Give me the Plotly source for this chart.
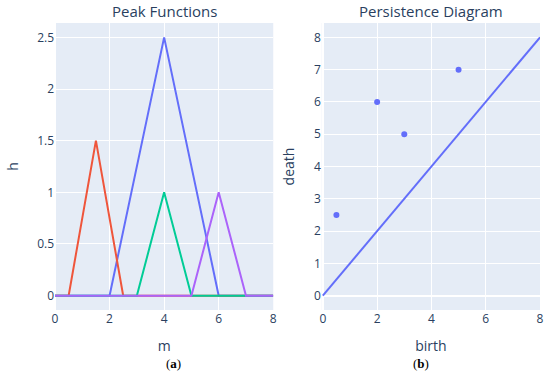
import plotly.graph_objects as go
from plotly.subplots import make_subplots

# Peak functions (m, h)
peak_blue_m = [0, 2, 4, 6, 8]
peak_blue_h = [0, 0, 2.5, 0, 0]
peak_red_m = [0, 0.5, 1.5, 2.5, 8]
peak_red_h = [0, 0, 1.5, 0, 0]
peak_green_m = [0, 3, 4, 5, 8]
peak_green_h = [0, 0, 1, 0, 0]
peak_purple_m = [0, 5, 6, 7, 8]
peak_purple_h = [0, 0, 1, 0, 0]

# Persistence diagram
birth = [0.5, 2, 3, 5]
death = [2.5, 6, 5, 7]
diag = [0, 8]

fig = make_subplots(rows=1, cols=2, subplot_titles=("Peak Functions", "Persistence Diagram"),
                    horizontal_spacing=0.1)

for m, h, c in [(peak_blue_m, peak_blue_h, "#636efa"),
                (peak_red_m, peak_red_h, "#EF553B"),
                (peak_green_m, peak_green_h, "#00cc96"),
                (peak_purple_m, peak_purple_h, "#ab63fa")]:
    fig.add_trace(go.Scatter(x=m, y=h, mode="lines", line=dict(color=c, width=2),
                             showlegend=False), row=1, col=1)

fig.add_trace(go.Scatter(x=birth, y=death, mode="markers", marker=dict(color="#636efa", size=6),
                         showlegend=False), row=1, col=2)
fig.add_trace(go.Scatter(x=diag, y=diag, mode="lines", line=dict(color="#636efa", width=2),
                         showlegend=False), row=1, col=2)

fig.update_xaxes(title_text="m", tickvals=[0, 2, 4, 6, 8], row=1, col=1)
fig.update_yaxes(title_text="h", row=1, col=1)
fig.update_xaxes(title_text="birth", tickvals=[0, 2, 4, 6, 8], row=1, col=2)
fig.update_yaxes(title_text="death", dtick=1, row=1, col=2)
fig.update_xaxes(automargin=False)
fig.update_yaxes(automargin=False)

for ann in fig.layout.annotations:
    ann.font.size = 15

fig.add_annotation(text="(<b>a</b>)", xref="paper", yref="paper", x=0.225, y=-0.185,
                   showarrow=False, font=dict(family="Liberation Serif", size=13, color="black"),
                   yanchor="middle")
fig.add_annotation(text="(<b>b</b>)", xref="paper", yref="paper", x=0.775, y=-0.185,
                   showarrow=False, font=dict(family="Liberation Serif", size=13, color="black"),
                   yanchor="middle")

fig.update_layout(width=550, height=374, margin=dict(l=55, r=10, t=23, b=64),
                  template="plotly")

fig.write_html("out.html", config={"displayModeBar": False},
               post_script="document.body.style.margin='0px';document.body.style.overflow='hidden';")
